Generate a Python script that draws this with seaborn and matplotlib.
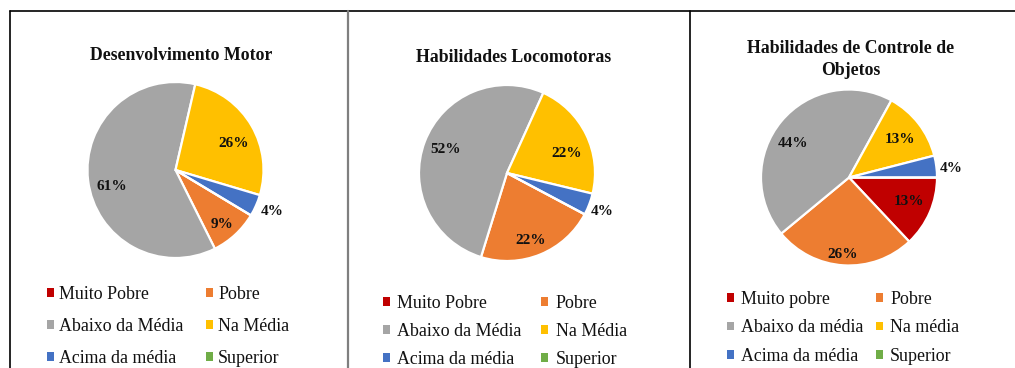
import matplotlib
matplotlib.use("Agg")
import matplotlib.pyplot as plt
from matplotlib.lines import Line2D
from matplotlib.patches import Patch
import numpy as np
import seaborn as sns

# Categories (legend order) and percentages per chart
categorias_a = ["Muito Pobre", "Pobre", "Abaixo da Média", "Na Média", "Acima da média", "Superior"]
categorias_b = ["Muito pobre", "Pobre", "Abaixo da média", "Na média", "Acima da média", "Superior"]
motor = [0, 9, 61, 26, 4, 0]
locomotoras = [0, 22, 52, 22, 4, 0]
controle = [13, 26, 44, 13, 4, 0]
titulos = ["Desenvolvimento Motor", "Habilidades Locomotoras", "Habilidades de Controle de\nObjetos"]

sns.set_theme(style="white")
plt.rcParams["font.family"] = ["Liberation Serif", "DejaVu Serif"]

cores = sns.color_palette(["#C00000", "#ED7D31", "#A5A5A5", "#FFC000", "#4472C4", "#70AD47"])

W, H = 1015, 368
fig = plt.figure(figsize=(W / 100, H / 100), dpi=100)
fig.patch.set_facecolor("white")

R = 88  # pie radius in pixels

# layout of each panel; "ajuste" nudges individual percentage labels (px, x right / y down)
paineis = [
    dict(vals=motor, cats=categorias_a, title=titulos[0], cx=175.5, cy=170, start=-31,
         tx=181.5, ty=55, lx=47, ly=286, colsp=1.25, pad=0.3, lsp=0.84,
         ajuste={1: (2, 6), 2: (2, 9), 3: (1, 7), 4: (2, 0)}),
    dict(vals=locomotoras, cats=categorias_a, title=titulos[1], cx=507, cy=173, start=-28,
         tx=513.5, ty=57, lx=383, ly=295, colsp=1.1, pad=0.42, lsp=0.62,
         ajuste={1: (-2, 6), 3: (0, 9), 4: (-1, 2)}),
    dict(vals=controle, cats=categorias_b, title=titulos[2], cx=849, cy=177.5, start=0,
         tx=851, ty=59.5, lx=727, ly=291, colsp=0.75, pad=0.38, lsp=0.64,
         ajuste={0: (-1, -2), 1: (-2, 11), 2: (-5, 8), 3: (-1, 2), 4: (0, 4)}),
]


def fx(x):
    return x / W


def fy(y):
    return 1 - y / H


for p in paineis:
    side = 2.5 * R
    ax = fig.add_axes([fx(p["cx"] - side / 2), fy(p["cy"] + side / 2), side / W, side / H])
    wedges, _, autotexts = ax.pie(
        p["vals"], colors=cores, startangle=p["start"], counterclock=False,
        autopct=lambda v: f"{v:.0f}%" if v > 0.5 else "", pctdistance=0.75,
        wedgeprops=dict(edgecolor="white", linewidth=1.6),
        textprops=dict(fontsize=11, fontweight="bold", color="#111111"),
    )
    for i, (w, t, v) in enumerate(zip(wedges, autotexts, p["vals"])):
        x, y = t.get_position()
        # small slices get their label just outside the pie
        if 0 < v < 6:
            ang = np.deg2rad((w.theta1 + w.theta2) / 2)
            x, y = 1.17 * np.cos(ang), 1.17 * np.sin(ang)
        dx, dy = p["ajuste"].get(i, (0, 0))
        t.set_position((x + dx / R, y - dy / R))
    ax.set_xlim(-1.25, 1.25)
    ax.set_ylim(-1.25, 1.25)
    ax.axis("off")

    fig.text(fx(p["tx"]), fy(p["ty"]), p["title"], ha="center", va="center",
             fontsize=12.8, fontweight="bold", color="#111111", linespacing=1.35)

    handles = [Patch(facecolor=c, edgecolor="none") for c in cores]
    ordem = [0, 2, 4, 1, 3, 5]
    fig.legend([handles[i] for i in ordem], [p["cats"][i] for i in ordem],
               ncol=2, loc="upper left", bbox_to_anchor=(fx(p["lx"]), fy(p["ly"])),
               frameon=False, borderpad=0, borderaxespad=0, fontsize=12.9,
               handlelength=0.38, handleheight=0.38, handletextpad=p["pad"],
               columnspacing=p["colsp"], labelspacing=p["lsp"], labelcolor="#111111")

# panel frame lines
fig.add_artist(Line2D([fx(9.5), 1], [fy(11), fy(11)], color="black", lw=1.2))
fig.add_artist(Line2D([fx(9.5), fx(9.5)], [fy(11), 0], color="black", lw=1.2))
fig.add_artist(Line2D([fx(347.5), fx(347.5)], [fy(11), 0], color="#7f7f7f", lw=1.6))
fig.add_artist(Line2D([fx(689.5), fx(689.5)], [fy(11), 0], color="black", lw=1.2))

fig.savefig("out.png", dpi=100, facecolor="white")
